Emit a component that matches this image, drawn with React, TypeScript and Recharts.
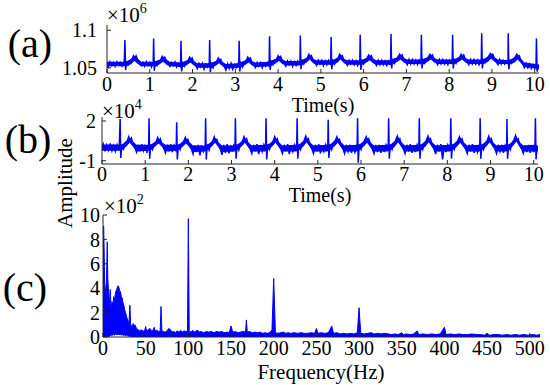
import { ComposedChart, Line, XAxis, YAxis, Area } from "recharts"

const BLUE = "#0000ff"
const FRAME = "#262626"
const FONT = "Liberation Serif"

const timeTicks = [0, 1, 2, 3, 4, 5, 6, 7, 8, 9, 10]
const ticksA = [1.05, 1.1]
const ticksB = [-1, 2]
const freqTicks = [0, 50, 100, 150, 200, 250, 300, 350, 400, 450, 500]
const ampTicks = [0, 2, 4, 6, 8, 10]

// (a) raw signal, x10^6
const signalA: [number, number][] = [
  [0, 1.056], [0.03, 1.051], [0.07, 1.058], [0.11, 1.053], [0.15, 1.057], [0.19, 1.052], [0.23, 1.058], [0.27, 1.054], [0.31, 1.057], [0.35, 1.052], [0.38, 1.056],
  [0.4, 1.053], [0.42, 1.087], [0.435, 1.047], [0.46, 1.057], [0.5, 1.054], [0.54, 1.059], [0.58, 1.061], [0.62, 1.066], [0.65, 1.063], [0.68, 1.066], [0.72, 1.06], [0.76, 1.058], [0.8, 1.053], [0.84, 1.057], [0.88, 1.052], [0.92, 1.058], [0.96, 1.053], [1.0, 1.057], [1.04, 1.051], [1.07, 1.056],
  [1.08, 1.054], [1.09, 1.089], [1.105, 1.046], [1.13, 1.057], [1.17, 1.053], [1.21, 1.058], [1.25, 1.06], [1.29, 1.065], [1.32, 1.062], [1.35, 1.064], [1.39, 1.059], [1.43, 1.056], [1.47, 1.052], [1.51, 1.057], [1.55, 1.053], [1.59, 1.058], [1.63, 1.051], [1.67, 1.056], [1.71, 1.052],
  [1.72, 1.055], [1.73, 1.086], [1.745, 1.045], [1.77, 1.056], [1.81, 1.052], [1.85, 1.058], [1.89, 1.059], [1.93, 1.064], [1.96, 1.06], [1.99, 1.063], [2.03, 1.057], [2.07, 1.054], [2.11, 1.049], [2.15, 1.056], [2.19, 1.051], [2.23, 1.056], [2.27, 1.048], [2.31, 1.055], [2.35, 1.051], [2.38, 1.055],
  [2.39, 1.052], [2.4, 1.087], [2.415, 1.044], [2.44, 1.055], [2.48, 1.05], [2.52, 1.056], [2.56, 1.058], [2.6, 1.063], [2.63, 1.059], [2.66, 1.061], [2.7, 1.055], [2.74, 1.052], [2.78, 1.047], [2.82, 1.055], [2.86, 1.049], [2.9, 1.056], [2.94, 1.048], [2.98, 1.054], [3.02, 1.05], [3.05, 1.055],
  [3.08, 1.053], [3.09, 1.086], [3.105, 1.045], [3.13, 1.056], [3.17, 1.051], [3.21, 1.057], [3.25, 1.059], [3.29, 1.064], [3.32, 1.061], [3.35, 1.063], [3.39, 1.057], [3.43, 1.054], [3.47, 1.05], [3.51, 1.057], [3.55, 1.052], [3.59, 1.057], [3.63, 1.05], [3.67, 1.056], [3.71, 1.052], [3.75, 1.057], [3.78, 1.053],
  [3.79, 1.055], [3.8, 1.092], [3.815, 1.047], [3.84, 1.058], [3.88, 1.054], [3.92, 1.059], [3.96, 1.061], [4.0, 1.066], [4.03, 1.063], [4.06, 1.065], [4.1, 1.059], [4.14, 1.056], [4.18, 1.052], [4.22, 1.059], [4.26, 1.054], [4.3, 1.059], [4.34, 1.052], [4.38, 1.058], [4.42, 1.053], [4.46, 1.059], [4.5, 1.055],
  [4.51, 1.056], [4.52, 1.093], [4.535, 1.048], [4.56, 1.059], [4.6, 1.055], [4.64, 1.06], [4.68, 1.063], [4.72, 1.068], [4.75, 1.064], [4.78, 1.066], [4.82, 1.06], [4.86, 1.057], [4.9, 1.053], [4.94, 1.06], [4.98, 1.055], [5.02, 1.06], [5.06, 1.053], [5.1, 1.059], [5.14, 1.054], [5.18, 1.06], [5.22, 1.056],
  [5.23, 1.055], [5.24, 1.091], [5.255, 1.048], [5.28, 1.059], [5.32, 1.055], [5.36, 1.061], [5.4, 1.063], [5.44, 1.068], [5.47, 1.064], [5.5, 1.066], [5.54, 1.06], [5.58, 1.057], [5.62, 1.053], [5.66, 1.06], [5.7, 1.055], [5.74, 1.06], [5.78, 1.054], [5.82, 1.059], [5.86, 1.053], [5.9, 1.058],
  [5.91, 1.056], [5.92, 1.094], [5.935, 1.047], [5.96, 1.059], [6.0, 1.055], [6.04, 1.06], [6.08, 1.063], [6.12, 1.067], [6.15, 1.064], [6.18, 1.066], [6.22, 1.06], [6.26, 1.057], [6.3, 1.053], [6.34, 1.06], [6.38, 1.054], [6.42, 1.06], [6.46, 1.054], [6.5, 1.059], [6.54, 1.053], [6.58, 1.059], [6.62, 1.055],
  [6.63, 1.057], [6.64, 1.095], [6.655, 1.049], [6.68, 1.06], [6.72, 1.056], [6.76, 1.061], [6.8, 1.064], [6.84, 1.068], [6.87, 1.065], [6.9, 1.067], [6.94, 1.061], [6.98, 1.058], [7.02, 1.054], [7.06, 1.061], [7.1, 1.055], [7.14, 1.061], [7.18, 1.055], [7.22, 1.06], [7.26, 1.054], [7.3, 1.06], [7.33, 1.056],
  [7.34, 1.057], [7.35, 1.094], [7.365, 1.049], [7.39, 1.06], [7.43, 1.056], [7.47, 1.062], [7.51, 1.064], [7.55, 1.068], [7.58, 1.065], [7.61, 1.067], [7.65, 1.061], [7.69, 1.058], [7.73, 1.054], [7.77, 1.061], [7.81, 1.055], [7.85, 1.061], [7.89, 1.055], [7.93, 1.06], [7.97, 1.054], [8.01, 1.06], [8.05, 1.056],
  [8.07, 1.057], [8.08, 1.094], [8.095, 1.049], [8.12, 1.06], [8.16, 1.056], [8.2, 1.062], [8.24, 1.064], [8.28, 1.068], [8.31, 1.065], [8.34, 1.067], [8.38, 1.061], [8.42, 1.058], [8.46, 1.054], [8.5, 1.061], [8.54, 1.055], [8.58, 1.061], [8.62, 1.055], [8.66, 1.06], [8.7, 1.054], [8.74, 1.059],
  [8.75, 1.057], [8.76, 1.096], [8.775, 1.049], [8.8, 1.06], [8.84, 1.057], [8.88, 1.062], [8.92, 1.065], [8.96, 1.069], [8.99, 1.066], [9.02, 1.068], [9.06, 1.062], [9.1, 1.058], [9.14, 1.054], [9.18, 1.061], [9.22, 1.055], [9.26, 1.06], [9.3, 1.055], [9.34, 1.059], [9.37, 1.056],
  [9.375, 1.057], [9.38, 1.096], [9.395, 1.048], [9.42, 1.059], [9.46, 1.056], [9.5, 1.061], [9.54, 1.064], [9.58, 1.068], [9.61, 1.065], [9.64, 1.066], [9.68, 1.059], [9.72, 1.055], [9.76, 1.05], [9.8, 1.056], [9.84, 1.05], [9.88, 1.055], [9.92, 1.049], [9.96, 1.054], [10.0, 1.049], [10.02, 1.053],
  [10.03, 1.051], [10.04, 1.089], [10.055, 1.045], [10.08, 1.052], [10.1, 1.049],
]

// (a) solid noise band under the trace: [t, low, high]
const bandA: [number, number, number][] = [
  [0, 1.052, 1.058], [0.4, 1.052, 1.058],
  [0.47, 1.052, 1.059], [0.57, 1.055, 1.062], [0.64, 1.059, 1.066], [0.72, 1.055, 1.062], [0.8, 1.052, 1.058], [1.07, 1.052, 1.058],
  [1.14, 1.052, 1.059], [1.24, 1.055, 1.061], [1.31, 1.058, 1.065], [1.39, 1.054, 1.061], [1.47, 1.052, 1.058], [1.71, 1.051, 1.057],
  [1.78, 1.051, 1.058], [1.88, 1.054, 1.06], [1.95, 1.057, 1.064], [2.03, 1.053, 1.059], [2.11, 1.05, 1.056], [2.38, 1.05, 1.056],
  [2.45, 1.05, 1.057], [2.55, 1.053, 1.059], [2.62, 1.056, 1.063], [2.7, 1.052, 1.058], [2.78, 1.049, 1.055], [3.07, 1.05, 1.056],
  [3.14, 1.051, 1.058], [3.24, 1.054, 1.06], [3.31, 1.057, 1.064], [3.39, 1.053, 1.059], [3.47, 1.051, 1.057], [3.78, 1.052, 1.058],
  [3.85, 1.053, 1.06], [3.95, 1.056, 1.062], [4.02, 1.059, 1.066], [4.1, 1.055, 1.061], [4.18, 1.053, 1.059], [4.5, 1.053, 1.059],
  [4.57, 1.054, 1.061], [4.67, 1.057, 1.063], [4.74, 1.061, 1.068], [4.82, 1.056, 1.062], [4.9, 1.054, 1.06], [5.22, 1.054, 1.06],
  [5.29, 1.054, 1.061], [5.39, 1.057, 1.063], [5.46, 1.061, 1.068], [5.54, 1.056, 1.062], [5.62, 1.054, 1.06], [5.9, 1.054, 1.06],
  [5.97, 1.054, 1.061], [6.07, 1.057, 1.063], [6.14, 1.06, 1.067], [6.22, 1.056, 1.062], [6.3, 1.054, 1.06], [6.62, 1.054, 1.06],
  [6.69, 1.055, 1.062], [6.79, 1.058, 1.064], [6.86, 1.061, 1.068], [6.94, 1.057, 1.063], [7.02, 1.055, 1.061], [7.33, 1.055, 1.061],
  [7.4, 1.055, 1.062], [7.5, 1.058, 1.064], [7.57, 1.061, 1.068], [7.65, 1.057, 1.063], [7.73, 1.055, 1.061], [8.06, 1.055, 1.061],
  [8.13, 1.055, 1.062], [8.23, 1.058, 1.064], [8.3, 1.061, 1.068], [8.38, 1.057, 1.063], [8.46, 1.055, 1.061], [8.74, 1.055, 1.061],
  [8.81, 1.055, 1.062], [8.91, 1.058, 1.065], [8.98, 1.062, 1.069], [9.06, 1.058, 1.064], [9.14, 1.055, 1.061], [9.37, 1.055, 1.06],
  [9.43, 1.055, 1.061], [9.53, 1.057, 1.064], [9.6, 1.061, 1.068], [9.68, 1.056, 1.062], [9.76, 1.051, 1.057], [10.02, 1.049, 1.055],
  [10.1, 1.048, 1.054],
]

// (b) detrended signal, x10^4
const signalB: [number, number][] = [
  [0, -0.1], [0.03, 0.25], [0.07, -0.3], [0.11, 0.2], [0.15, -0.2], [0.19, 0.3], [0.23, -0.25], [0.27, 0.15], [0.31, -0.3], [0.35, 0.2], [0.38, -0.1],
  [0.4, 0.05], [0.42, 2.15], [0.435, -0.8], [0.46, 0.2], [0.5, -0.1], [0.54, 0.35], [0.58, 0.45], [0.62, 0.8], [0.65, 0.5], [0.68, 0.7], [0.72, 0.2], [0.76, 0.0], [0.8, -0.35], [0.84, 0.2], [0.88, -0.3], [0.92, 0.25], [0.96, -0.25], [1.0, 0.2], [1.04, -0.4], [1.07, 0.1],
  [1.08, -0.05], [1.09, 2.2], [1.105, -0.85], [1.13, 0.2], [1.17, -0.15], [1.21, 0.3], [1.25, 0.4], [1.29, 0.75], [1.32, 0.45], [1.35, 0.65], [1.39, 0.2], [1.43, -0.05], [1.47, -0.4], [1.51, 0.2], [1.55, -0.3], [1.59, 0.25], [1.63, -0.35], [1.67, 0.15], [1.71, -0.2],
  [1.72, 0.0], [1.73, 1.9], [1.745, -0.9], [1.77, 0.2], [1.81, -0.15], [1.85, 0.3], [1.89, 0.45], [1.93, 0.75], [1.96, 0.4], [1.99, 0.6], [2.03, 0.15], [2.07, -0.1], [2.11, -0.5], [2.15, 0.15], [2.19, -0.35], [2.23, 0.2], [2.27, -0.6], [2.31, 0.15], [2.35, -0.3], [2.38, 0.1],
  [2.39, -0.05], [2.4, 2.2], [2.415, -0.9], [2.44, 0.2], [2.48, -0.2], [2.52, 0.3], [2.56, 0.45], [2.6, 0.8], [2.63, 0.45], [2.66, 0.6], [2.7, 0.15], [2.74, -0.1], [2.78, -0.55], [2.82, 0.2], [2.86, -0.4], [2.9, 0.25], [2.94, -0.45], [2.98, 0.15], [3.02, -0.3], [3.05, 0.15],
  [3.08, -0.05], [3.09, 2.2], [3.105, -0.85], [3.13, 0.2], [3.17, -0.2], [3.21, 0.3], [3.25, 0.45], [3.29, 0.8], [3.32, 0.5], [3.35, 0.65], [3.39, 0.15], [3.43, -0.1], [3.47, -0.45], [3.51, 0.2], [3.55, -0.3], [3.59, 0.25], [3.63, -0.5], [3.67, 0.15], [3.71, -0.3], [3.75, 0.2], [3.78, -0.1],
  [3.79, 0.0], [3.8, 2.2], [3.815, -0.9], [3.84, 0.2], [3.88, -0.15], [3.92, 0.3], [3.96, 0.45], [4.0, 0.8], [4.03, 0.5], [4.06, 0.65], [4.1, 0.15], [4.14, -0.1], [4.18, -0.45], [4.22, 0.2], [4.26, -0.3], [4.3, 0.25], [4.34, -0.5], [4.38, 0.15], [4.42, -0.3], [4.46, 0.2], [4.5, -0.1],
  [4.51, -0.05], [4.52, 2.2], [4.535, -0.85], [4.56, 0.2], [4.6, -0.15], [4.64, 0.3], [4.68, 0.5], [4.72, 0.85], [4.75, 0.5], [4.78, 0.65], [4.82, 0.15], [4.86, -0.1], [4.9, -0.45], [4.94, 0.2], [4.98, -0.3], [5.02, 0.25], [5.06, -0.45], [5.1, 0.15], [5.14, -0.3], [5.18, 0.2], [5.22, -0.1],
  [5.23, 0.0], [5.24, 2.1], [5.255, -0.8], [5.28, 0.2], [5.32, -0.15], [5.36, 0.35], [5.4, 0.5], [5.44, 0.8], [5.47, 0.5], [5.5, 0.6], [5.54, 0.15], [5.58, -0.1], [5.62, -0.45], [5.66, 0.2], [5.7, -0.3], [5.74, 0.2], [5.78, -0.4], [5.82, 0.15], [5.86, -0.35], [5.9, 0.1],
  [5.91, -0.05], [5.92, 2.2], [5.935, -1.15], [5.96, 0.2], [6.0, -0.15], [6.04, 0.3], [6.08, 0.5], [6.12, 0.8], [6.15, 0.5], [6.18, 0.65], [6.22, 0.15], [6.26, -0.1], [6.3, -0.45], [6.34, 0.2], [6.38, -0.35], [6.42, 0.2], [6.46, -0.4], [6.5, 0.15], [6.54, -0.35], [6.58, 0.2], [6.62, -0.1],
  [6.63, 0.0], [6.64, 2.2], [6.655, -0.85], [6.68, 0.2], [6.72, -0.15], [6.76, 0.3], [6.8, 0.5], [6.84, 0.85], [6.87, 0.5], [6.9, 0.65], [6.94, 0.15], [6.98, -0.1], [7.02, -0.45], [7.06, 0.2], [7.1, -0.3], [7.14, 0.25], [7.18, -0.4], [7.22, 0.15], [7.26, -0.35], [7.3, 0.2], [7.33, -0.05],
  [7.34, 0.0], [7.35, 2.2], [7.365, -0.85], [7.39, 0.2], [7.43, -0.15], [7.47, 0.3], [7.51, 0.5], [7.55, 0.85], [7.58, 0.5], [7.61, 0.65], [7.65, 0.15], [7.69, -0.1], [7.73, -0.5], [7.77, 0.2], [7.81, -0.3], [7.85, 0.25], [7.89, -0.9], [7.93, 0.15], [7.97, -0.35], [8.01, 0.2], [8.05, -0.05],
  [8.07, 0.0], [8.08, 2.2], [8.095, -0.85], [8.12, 0.2], [8.16, -0.15], [8.2, 0.3], [8.24, 0.5], [8.28, 0.8], [8.31, 0.5], [8.34, 0.65], [8.38, 0.15], [8.42, -0.1], [8.46, -0.45], [8.5, 0.2], [8.54, -0.3], [8.58, 0.25], [8.62, -0.4], [8.66, 0.15], [8.7, -0.35], [8.74, 0.1],
  [8.75, 0.0], [8.76, 2.2], [8.775, -0.85], [8.8, 0.2], [8.84, -0.15], [8.88, 0.3], [8.92, 0.5], [8.96, 0.85], [8.99, 0.5], [9.02, 0.65], [9.06, 0.15], [9.1, -0.1], [9.14, -0.45], [9.18, 0.2], [9.22, -0.3], [9.26, 0.2], [9.3, -0.4], [9.34, 0.15], [9.37, -0.05],
  [9.375, 0.0], [9.38, 2.15], [9.395, -0.85], [9.42, 0.2], [9.46, -0.15], [9.5, 0.35], [9.54, 0.55], [9.58, 0.9], [9.61, 0.55], [9.64, 0.65], [9.68, 0.15], [9.72, -0.1], [9.76, -0.45], [9.8, 0.15], [9.84, -0.35], [9.88, 0.2], [9.92, -0.4], [9.96, 0.15], [10.0, -0.35], [10.02, 0.05],
  [10.03, -0.05], [10.04, 2.2], [10.055, -0.9], [10.08, 0.1], [10.1, -0.2],
]

// (b) solid noise band under the trace: [t, low, high]
const bandB: [number, number, number][] = [
  [0, -0.25, 0.22], [0.4, -0.25, 0.22],
  [0.47, -0.2, 0.25], [0.57, 0.1, 0.5], [0.64, 0.35, 0.75], [0.72, 0.05, 0.45], [0.8, -0.3, 0.2], [1.07, -0.25, 0.2],
  [1.14, -0.2, 0.25], [1.24, 0.1, 0.45], [1.31, 0.3, 0.7], [1.39, 0.05, 0.4], [1.47, -0.3, 0.2], [1.71, -0.25, 0.2],
  [1.78, -0.2, 0.25], [1.88, 0.1, 0.45], [1.95, 0.3, 0.7], [2.03, 0.0, 0.4], [2.11, -0.35, 0.15], [2.38, -0.3, 0.15],
  [2.45, -0.2, 0.25], [2.55, 0.1, 0.45], [2.62, 0.35, 0.75], [2.7, 0.0, 0.4], [2.78, -0.35, 0.15], [3.07, -0.3, 0.15],
  [3.14, -0.2, 0.25], [3.24, 0.1, 0.45], [3.31, 0.35, 0.75], [3.39, 0.0, 0.4], [3.47, -0.3, 0.15], [3.78, -0.3, 0.2],
  [3.85, -0.2, 0.25], [3.95, 0.1, 0.45], [4.02, 0.35, 0.75], [4.1, 0.0, 0.4], [4.18, -0.3, 0.15], [4.5, -0.3, 0.2],
  [4.57, -0.2, 0.25], [4.67, 0.1, 0.5], [4.74, 0.4, 0.8], [4.82, 0.0, 0.4], [4.9, -0.3, 0.15], [5.22, -0.3, 0.2],
  [5.29, -0.2, 0.25], [5.39, 0.1, 0.5], [5.46, 0.35, 0.75], [5.54, 0.0, 0.4], [5.62, -0.3, 0.15], [5.9, -0.3, 0.2],
  [5.97, -0.2, 0.25], [6.07, 0.1, 0.5], [6.14, 0.35, 0.75], [6.22, 0.0, 0.4], [6.3, -0.3, 0.15], [6.62, -0.3, 0.2],
  [6.69, -0.2, 0.25], [6.79, 0.1, 0.5], [6.86, 0.4, 0.8], [6.94, 0.0, 0.4], [7.02, -0.3, 0.15], [7.33, -0.3, 0.2],
  [7.4, -0.2, 0.25], [7.5, 0.1, 0.5], [7.57, 0.4, 0.8], [7.65, 0.0, 0.4], [7.73, -0.3, 0.15], [8.06, -0.3, 0.2],
  [8.13, -0.2, 0.25], [8.23, 0.1, 0.5], [8.3, 0.35, 0.75], [8.38, 0.0, 0.4], [8.46, -0.3, 0.15], [8.74, -0.3, 0.2],
  [8.81, -0.2, 0.25], [8.91, 0.1, 0.5], [8.98, 0.4, 0.8], [9.06, 0.0, 0.4], [9.14, -0.3, 0.15], [9.37, -0.3, 0.2],
  [9.43, -0.2, 0.25], [9.53, 0.15, 0.5], [9.6, 0.45, 0.85], [9.68, 0.0, 0.4], [9.76, -0.3, 0.15], [10.02, -0.3, 0.2],
  [10.1, -0.3, 0.15],
]

// (c) amplitude spectrum, x10^2 : [freq, low, high]
const spectrum: [number, number, number][] = [
  [0, 0, 9.0], [0.8, 0, 9.1], [1.5, 0, 6.5], [2, 0, 4.0], [3, 0, 3.9], [4, 0, 4.5], [5, 0, 7.8], [5.6, 0, 4.8], [6.5, 0, 3.7], [7.5, 0.05, 2.6], [8.5, 0.1, 3.9], [9.5, 0.15, 2.2],
  [10.5, 0.15, 2.9], [11.5, 0.15, 2.5], [12.5, 0.2, 3.3], [13.5, 0.15, 3.0], [14.5, 0.2, 3.6], [15.5, 0.2, 3.8], [16.5, 0.2, 4.0], [17.5, 0.2, 4.2], [18.5, 0.2, 4.1], [19.5, 0.2, 3.8],
  [20.5, 0.2, 3.7], [21.5, 0.15, 3.3], [22.5, 0.2, 3.2], [23.5, 0.15, 2.8], [24.5, 0.15, 2.6], [25.5, 0.15, 2.2], [26.5, 0.1, 2.0], [27.5, 0.15, 1.7], [28.5, 0.1, 1.5], [29.5, 0.1, 1.3],
  [30.5, 0.05, 1.1], [31.5, 0.05, 2.6], [32.5, 0.05, 1.0], [33.5, 0, 0.8], [34.5, 0, 1.0], [35.5, 0, 1.1], [36.5, 0, 0.9], [37.5, 0, 1.0], [38.5, 0, 0.8], [39.5, 0, 0.7],
  [41, 0, 0.6], [43, 0, 0.5], [45, 0, 0.6], [47, 0, 0.45], [49, 0, 0.6], [50, 0, 0.85], [51, 0, 0.5], [53, 0, 0.6], [55, 0, 0.7], [57, 0, 0.5], [59, 0, 0.6], [60, 0, 0.8], [61, 0, 0.5],
  [63, 0, 0.55], [65, 0, 0.45], [67, 0, 0.5], [68, 0, 2.5], [69, 0, 0.5], [71, 0, 0.45], [73, 0, 0.4], [75, 0, 0.5], [77, 0, 0.7], [79, 0, 0.6], [81, 0, 0.4], [83, 0, 0.45],
  [85, 0, 0.35], [87, 0, 0.5], [89, 0, 0.4], [91, 0, 0.55], [93, 0, 0.4], [95, 0, 0.5], [97, 0, 0.45], [99, 0, 0.5], [100, 0, 9.7], [101, 0, 0.5], [103, 0, 0.4], [105, 0, 0.55],
  [107, 0, 0.4], [109, 0, 0.5], [111, 0, 0.55], [113, 0, 0.4], [115, 0, 0.45], [118, 0, 0.35], [121, 0, 0.45], [124, 0, 0.4], [127, 0, 0.45], [130, 0, 0.35], [133, 0, 0.45],
  [136, 0, 0.4], [139, 0, 0.45], [142, 0, 0.35], [145, 0, 0.4], [148, 0, 0.35], [150, 0, 0.9], [152, 0, 0.4], [155, 0, 0.45], [158, 0, 0.35], [161, 0, 0.4], [164, 0, 0.45],
  [167, 0, 0.4], [168, 0, 1.4], [169, 0, 0.4], [172, 0, 0.45], [175, 0, 0.35], [178, 0, 0.4], [181, 0, 0.35], [184, 0, 0.4], [187, 0, 0.3], [190, 0, 0.35], [193, 0, 0.3],
  [196, 0, 0.4], [198, 0, 0.6], [200, 0, 4.8], [202, 0, 0.35], [205, 0, 0.3], [208, 0, 0.35], [211, 0, 0.4], [214, 0, 0.3], [217, 0, 0.35], [220, 0, 0.3], [224, 0, 0.35],
  [228, 0, 0.3], [232, 0, 0.35], [236, 0, 0.3], [240, 0, 0.3], [244, 0, 0.35], [248, 0, 0.3], [250, 0, 0.7], [252, 0, 0.3], [256, 0, 0.35], [260, 0, 0.3], [264, 0, 0.35],
  [268, 0, 0.9], [270, 0, 0.3], [274, 0, 0.35], [278, 0, 0.25], [282, 0, 0.3], [286, 0, 0.25], [290, 0, 0.3], [294, 0, 0.25], [298, 0, 0.35], [300, 0, 2.4], [302, 0, 0.3],
  [306, 0, 0.25], [310, 0, 0.3], [314, 0, 0.35], [318, 0, 0.25], [322, 0, 0.3], [326, 0, 0.25], [330, 0, 0.3], [334, 0, 0.25], [338, 0, 0.2], [342, 0, 0.25], [346, 0, 0.2],
  [350, 0, 0.35], [352, 0, 0.2], [356, 0, 0.25], [360, 0, 0.2], [364, 0, 0.25], [368, 0, 0.5], [370, 0, 0.2], [375, 0, 0.25], [380, 0, 0.2], [385, 0, 0.25], [390, 0, 0.2],
  [395, 0, 0.25], [400, 0, 0.8], [402, 0, 0.2], [407, 0, 0.25], [412, 0, 0.2], [417, 0, 0.25], [422, 0, 0.2], [427, 0, 0.2], [432, 0, 0.25], [437, 0, 0.2], [442, 0, 0.2],
  [447, 0, 0.15], [450, 0, 0.3], [453, 0, 0.15], [458, 0, 0.2], [463, 0, 0.2], [468, 0, 0.15], [473, 0, 0.2], [478, 0, 0.15], [483, 0, 0.2], [488, 0, 0.15], [493, 0, 0.2],
  [498, 0, 0.15], [503, 0, 0.2], [508, 0, 0.15], [512, 0, 0.2],
]

const toLine = (pts: [number, number][]) => pts.map(([t, v]) => ({ t, v }))
const toBand = (pts: [number, number, number][], key: string) => pts.map(([x, lo, hi]) => ({ [key]: x, r: [lo, hi] }))

const dataA = toLine(signalA)
const dataB = toLine(signalB)
const bandDataA = toBand(bandA, "t")
const bandDataB = toBand(bandB, "t")
const dataC = toBand(spectrum, "f")

const tickStyle = { fontSize: 20, fill: "#000", fontFamily: FONT }

function frameAxes(xKey: string, xDomain: number[], xTicks: number[], yDomain: number[], yTicks: number[], xMargin: number, yMargin: number) {
  return [
    <XAxis key="xb" dataKey={xKey} type="number" domain={xDomain} ticks={xTicks} interval={0} allowDataOverflow
      tickSize={-4} tickMargin={xMargin} height={30} stroke={FRAME} tick={tickStyle} />,
    <XAxis key="xt" xAxisId="top" orientation="top" type="number" domain={xDomain} ticks={xTicks} interval={0} allowDataOverflow
      tickSize={-4} height={0} stroke={FRAME} tick={false} />,
    <YAxis key="yl" type="number" domain={yDomain} ticks={yTicks} interval={0} allowDataOverflow
      tickSize={-4} tickMargin={yMargin} width={40} stroke={FRAME} tick={tickStyle} />,
    <YAxis key="yr" yAxisId="right" orientation="right" type="number" domain={yDomain} ticks={yTicks} interval={0} allowDataOverflow
      tickSize={-4} width={0} stroke={FRAME} tick={false} />,
  ]
}

const abs = (top: number) => ({ position: "absolute" as const, left: 0, top })

export default function App() {
  return (
    <div style={{ position: "absolute", left: 0, top: 0, width: 550, height: 385, background: "#fff", overflow: "hidden", fontFamily: FONT }}>
      <div style={abs(0)}>
        <ComposedChart width={550} height={110} margin={{ top: 25, right: 11, left: 67, bottom: 7 }}>
          {frameAxes("t", [0, 10.1], timeTicks, [1.043, 1.107], ticksA, 8, 14)}
          <Area data={bandDataA} dataKey="r" type="linear" stroke="none" fill={BLUE} fillOpacity={1} isAnimationActive={false} />
          <Line data={dataA} dataKey="v" type="linear" stroke={BLUE} strokeWidth={1.5} dot={false} isAnimationActive={false} />
        </ComposedChart>
      </div>
      <div style={abs(0)}>
        <ComposedChart width={550} height={200} margin={{ top: 117, right: 12, left: 62, bottom: 6 }}>
          {frameAxes("t", [0, 10.1], timeTicks, [-1.25, 2.3], ticksB, 7, 10)}
          <Area data={bandDataB} dataKey="r" type="linear" stroke="none" fill={BLUE} fillOpacity={1} isAnimationActive={false} />
          <Line data={dataB} dataKey="v" type="linear" stroke={BLUE} strokeWidth={1.5} dot={false} isAnimationActive={false} />
        </ComposedChart>
      </div>
      <div style={abs(0)}>
        <ComposedChart width={550} height={385} data={dataC} margin={{ top: 215, right: 10, left: 63, bottom: 18 }}>
          {frameAxes("f", [0, 512], freqTicks, [0, 10], ampTicks, 8, 7)}
          <Area dataKey="r" type="linear" stroke={BLUE} strokeWidth={1} fill={BLUE} fillOpacity={1} isAnimationActive={false} />
        </ComposedChart>
      </div>
      <svg width={550} height={385} style={{ position: "absolute", left: 0, top: 0, pointerEvents: "none" }} fontFamily={FONT}>
        <text x={30} y={57} fontSize={40} textAnchor="middle">(a)</text>
        <text x={28} y={153} fontSize={40} textAnchor="middle">(b)</text>
        <text x={25} y={301} fontSize={40} textAnchor="middle">(c)</text>
        <text x={107} y={22} fontSize={21}>×10<tspan dy={-9} fontSize={14}>6</tspan></text>
        <text x={102} y={118} fontSize={21}>×10<tspan dy={-9} fontSize={14}>4</tspan></text>
        <text x={104} y={213} fontSize={21}>×10<tspan dy={-9} fontSize={14}>2</tspan></text>
        <text x={323} y={112} fontSize={20} textAnchor="middle">Time(s)</text>
        <text x={320} y={202} fontSize={20} textAnchor="middle">Time(s)</text>
        <text x={321} y={379} fontSize={21} textAnchor="middle">Frequency(Hz)</text>
        <text x={0} y={0} fontSize={21} textAnchor="middle" transform="translate(72 183) rotate(-90)">Amplitude</text>
      </svg>
    </div>
  )
}
